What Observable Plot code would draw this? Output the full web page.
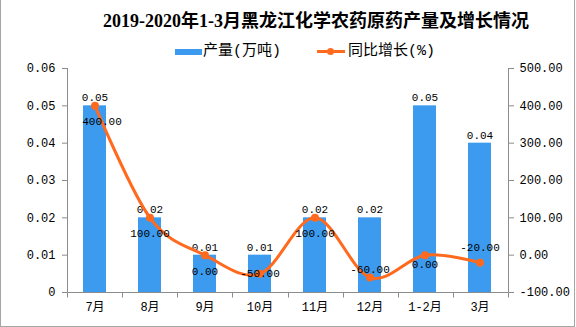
<!DOCTYPE html>
<html>
<head>
<meta charset="utf-8">
<script src="https://cdn.jsdelivr.net/npm/d3@7"></script>
<script src="https://cdn.jsdelivr.net/npm/@observablehq/plot@0.6"></script>
<style>
html, body { margin: 0; padding: 0; background: #fff; }
#wrap { position: relative; width: 576px; height: 327px; overflow: hidden; background: #fff; }
#frame { position: absolute; left: 0; top: 0; width: 575px; height: 327px; border: 1px solid #a6a6a6; border-top: none; box-sizing: border-box; pointer-events: none; }
#chart { position: absolute; left: 0; top: 0; }
#title { position: absolute; left: 103px; top: 10px; white-space: nowrap; font: bold 18px/23px "Liberation Serif", "Noto Sans CJK SC", serif; color: #000; }
.lg { position: absolute; white-space: nowrap; font: 15px/18px "Liberation Mono", "Noto Sans CJK SC", monospace; color: #000; top: 43px; }
#sw1 { position: absolute; left: 175px; top: 49px; width: 27px; height: 6px; background: #3d9bef; }
#sw2 { position: absolute; left: 317px; top: 50px; width: 28px; height: 3px; background: #ff6a1e; }
#sw2dot { position: absolute; left: 327px; top: 48px; width: 7px; height: 7px; border-radius: 50%; background: #ff6a1e; }
</style>
</head>
<body>
<div id="wrap">
  <div id="chart"></div>
  <div id="title"></div>
  <div id="sw1"></div><div class="lg" id="lg1" style="left:203px"></div>
  <div id="sw2"></div><div id="sw2dot"></div><div class="lg" id="lg2" style="left:348px"></div>
  <div id="frame"></div>
</div>
<script>
const titleText = "2019-2020年1-3月黑龙江化学农药原药产量及增长情况";
const seriesNames = ["产量(万吨)", "同比增长(%)"];
const categories = ["7月", "8月", "9月", "10月", "11月", "12月", "1-2月", "3月"];
const production = [0.05, 0.02, 0.01, 0.01, 0.02, 0.02, 0.05, 0.04];
const growth = [400, 100, 0, -50, 100, -60, 0, -20];
const leftTicks = [0, 0.01, 0.02, 0.03, 0.04, 0.05, 0.06];
const rightTicks = [-100, 0, 100, 200, 300, 400, 500];

document.getElementById("title").textContent = titleText;
document.getElementById("lg1").textContent = seriesNames[0];
document.getElementById("lg2").textContent = seriesNames[1];

const pMin = leftTicks[0], pMax = leftTicks[leftTicks.length - 1];
const gMin = rightTicks[0], gMax = rightTicks[rightTicks.length - 1];
const toLeft = g => pMin + (g - gMin) / (gMax - gMin) * (pMax - pMin);
const fromLeft = v => gMin + (v - pMin) / (pMax - pMin) * (gMax - gMin);

const rows = categories.map((c, i) => ({cat: c, p: production[i], g: growth[i], gy: toLeft(growth[i])}));

const BLUE = "#3d9bef", ORANGE = "#ff6a1e", AXIS = "#8c8c8c";
const numFont = '"Liberation Mono", "Noto Sans CJK SC", monospace';

function frameMark(index, scales, values, dims) {
  const {width, height, marginLeft, marginRight, marginTop, marginBottom} = dims;
  const x0 = marginLeft + 0.5, x1 = width - marginRight + 0.5;
  const y0 = marginTop, y1 = height - marginBottom + 0.5;
  const g = d3.create("svg:g").attr("stroke", AXIS).attr("fill", "none").attr("stroke-width", 1);
  g.append("line").attr("x1", x0).attr("x2", x0).attr("y1", y0).attr("y2", y1);
  g.append("line").attr("x1", x1).attr("x2", x1).attr("y1", y0).attr("y2", y1);
  g.append("line").attr("x1", x0).attr("x2", x1).attr("y1", y1).attr("y2", y1);
  const step = (width - marginRight - marginLeft) / categories.length;
  for (let i = 0; i <= categories.length; i++) {
    const xx = Math.round(marginLeft + i * step) + 0.5;
    g.append("line").attr("x1", xx).attr("x2", xx).attr("y1", y1).attr("y2", y1 + 5);
  }
  return g.node();
}

function growthLabels(cats, dy, dx = 0) {
  return Plot.text(rows, {
    filter: d => cats.includes(d.cat),
    x: "cat", y: "gy", text: d => d.g.toFixed(2), dy, dx,
    fill: "#000", fontFamily: numFont, fontSize: 11
  });
}

const chart = Plot.plot({
  width: 576,
  height: 327,
  marginLeft: 67,
  marginRight: 68,
  marginTop: 68,
  marginBottom: 35,
  style: {background: "transparent", color: "#000", fontFamily: numFont, fontSize: "12px"},
  x: {domain: categories, paddingInner: 0.58, paddingOuter: 0.29, axis: null},
  y: {domain: [pMin, pMax], axis: null},
  marks: [
    Plot.barY(rows, {x: "cat", y: "p", fill: BLUE}),
    frameMark,
    Plot.axisY({ticks: leftTicks, anchor: "left", tickSize: 5, tickPadding: 7, stroke: AXIS, fill: "#000",
      tickFormat: d => d === 0 ? "0" : d.toFixed(2), fontFamily: numFont, fontSize: 12, label: null}),
    Plot.axisY({ticks: rightTicks.map(toLeft), anchor: "right", tickSize: 5, tickPadding: 6, stroke: AXIS, fill: "#000",
      tickFormat: d => (Math.round(fromLeft(d)) + 0).toFixed(2), fontFamily: numFont, fontSize: 12, label: null}),
    Plot.axisX({anchor: "bottom", tickSize: 0, tickPadding: 10, fill: "#000", fontFamily: numFont, fontSize: 12, label: null}),
    Plot.text(rows, {x: "cat", y: "p", text: d => d.p.toFixed(2), dy: -8, fill: "#000", fontFamily: numFont, fontSize: 11}),
    Plot.line(rows, {x: "cat", y: "gy", stroke: ORANGE, strokeWidth: 3, curve: "cardinal"}),
    Plot.dot(rows, {x: "cat", y: "gy", r: 4, fill: ORANGE}),
    growthLabels(["7月"], 16, 7),
    growthLabels(["8月", "9月", "11月"], 16),
    growthLabels(["1-2月"], 9),
    growthLabels(["10月"], 0),
    growthLabels(["12月"], -8),
    growthLabels(["3月"], -15)
  ]
});
document.getElementById("chart").appendChild(chart);
</script>
</body>
</html>
